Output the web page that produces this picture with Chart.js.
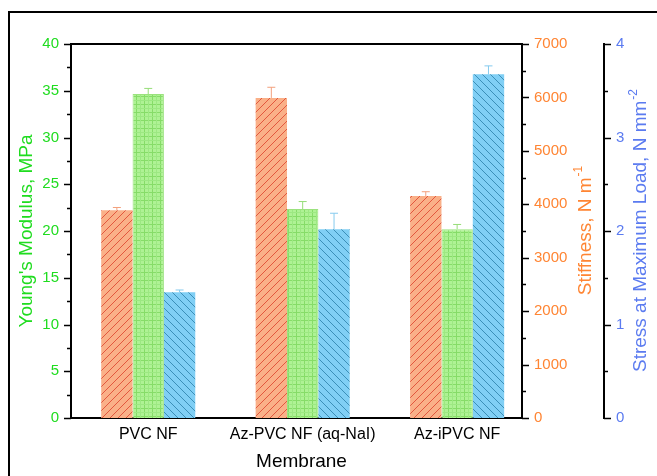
<!DOCTYPE html>
<html>
<head>
<meta charset="utf-8">
<script src="https://cdn.jsdelivr.net/npm/chart.js@4/dist/chart.umd.min.js"></script>
<style>
  html, body { margin: 0; padding: 0; background: #fff; }
  #wrap { width: 657px; height: 476px; }
</style>
</head>
<body>
<div id="wrap"><canvas id="chart" width="657" height="476"></canvas></div>
<script>
// membrane categories
const membranes = ['PVC NF', 'Az-PVC NF (aq-NaI)', 'Az-iPVC NF'];

// stiffness, N m-1 (right axis, orange)
const stiffness = [3890, 5990, 4155];
const stiffnessErr = [50, 200, 80];

// young's modulus, MPa (left axis, green)
const youngs = [34.65, 22.35, 20.2];
const youngsErr = [0.6, 0.8, 0.5];

// stress at max load, N mm-2 (outer right axis, blue)
const stress = [1.344, 2.02, 3.676];
const stressErr = [0.025, 0.17, 0.09];

const GREEN = '#1fdc1f';
const ORANGE = '#ff8533';
const BLUE = '#5b7bf0';

// hatch fills
function makePattern(bg, draw) {
  const c = document.createElement('canvas');
  c.width = 8; c.height = 8;
  const g = c.getContext('2d');
  g.fillStyle = bg;
  g.fillRect(0, 0, 8, 8);
  draw(g);
  return g.createPattern(c, 'repeat');
}

const orangeFill = makePattern('#fab088', g => {
  g.strokeStyle = '#e2583e';
  g.lineWidth = 1;
  g.beginPath();
  g.moveTo(0, 8); g.lineTo(8, 0);
  g.moveTo(-1, 1); g.lineTo(1, -1);
  g.moveTo(7, 9); g.lineTo(9, 7);
  g.stroke();
});

const blueFill = makePattern('#80cff5', g => {
  g.strokeStyle = '#3b8fb8';
  g.lineWidth = 1;
  g.beginPath();
  g.moveTo(0, 0); g.lineTo(8, 8);
  g.moveTo(7, -1); g.lineTo(9, 1);
  g.moveTo(-1, 7); g.lineTo(1, 9);
  g.stroke();
});

const greenFill = makePattern('#aef294', g => {
  g.fillStyle = '#86dc68';
  g.fillRect(0, 0, 8, 1);
  g.fillRect(0, 0, 1, 8);
  g.fillStyle = '#9ce882';
  g.fillRect(0, 4, 8, 1);
  g.fillRect(4, 0, 1, 8);
});

const toPoints = arr => arr.map((v, i) => ({ x: i + 1, y: v }));

// error bars, caps and ticks / titles drawn on top
const errorBars = {
  id: 'errorBars',
  afterDatasetsDraw(chart) {
    const ctx = chart.ctx;
    chart.data.datasets.forEach((ds, di) => {
      const meta = chart.getDatasetMeta(di);
      const scale = chart.scales[ds.yAxisID];
      ctx.save();
      ctx.strokeStyle = ds.errColor;
      ctx.lineWidth = 1;
      meta.data.forEach((bar, i) => {
        const top = scale.getPixelForValue(ds.data[i].y + ds.err[i]);
        ctx.beginPath();
        ctx.moveTo(bar.x, bar.y);
        ctx.lineTo(bar.x, top);
        ctx.moveTo(bar.x - 4, top);
        ctx.lineTo(bar.x + 4, top);
        ctx.stroke();
      });
      ctx.restore();
    });
  }
};

function drawTicks(ctx, scale, step, side) {
  const x = side === 'left' ? scale.right : scale.left;
  const dir = side === 'left' ? -1 : 1;
  ctx.beginPath();
  for (let v = scale.min; v <= scale.max + 1e-9; v += step / 2) {
    const major = Math.abs(v / step - Math.round(v / step)) < 1e-6;
    const y = Math.round(scale.getPixelForValue(v)) + 0.5;
    ctx.moveTo(x, y);
    ctx.lineTo(x + dir * (major ? 7 : 4), y);
  }
  ctx.stroke();
}

function rotatedTitle(ctx, text, sup, cx, cy, color) {
  ctx.save();
  ctx.translate(cx, cy);
  ctx.rotate(-Math.PI / 2);
  ctx.fillStyle = color;
  ctx.textBaseline = 'middle';
  ctx.textAlign = 'left';
  ctx.font = '19px "Liberation Sans", Arial, sans-serif';
  const w = ctx.measureText(text).width;
  ctx.font = '12px "Liberation Sans", Arial, sans-serif';
  const ws = sup ? ctx.measureText(sup).width : 0;
  const start = -(w + ws) / 2;
  ctx.font = '19px "Liberation Sans", Arial, sans-serif';
  ctx.fillText(text, start, 0);
  if (sup) {
    ctx.font = '12px "Liberation Sans", Arial, sans-serif';
    ctx.fillText(sup, start + w + 1, -7);
  }
  ctx.restore();
}

const decor = {
  id: 'decor',
  beforeDraw(chart) {
    const ctx = chart.ctx;
    ctx.save();
    ctx.fillStyle = '#ffffff';
    ctx.fillRect(0, 0, chart.width, chart.height);
    ctx.restore();
  },
  afterDraw(chart) {
    const ctx = chart.ctx;
    const { y, y1, y2 } = chart.scales;
    const area = chart.chartArea;
    ctx.save();
    ctx.strokeStyle = '#000';
    ctx.lineWidth = 1.5;
    drawTicks(ctx, y, 5, 'left');
    drawTicks(ctx, y1, 1000, 'right');
    drawTicks(ctx, y2, 1, 'right');
    // top axis line
    ctx.lineWidth = 2;
    ctx.beginPath();
    ctx.moveTo(area.left, area.top);
    ctx.lineTo(area.right, area.top);
    ctx.stroke();
    // outer frame
    ctx.beginPath();
    ctx.moveTo(9, chart.height);
    ctx.lineTo(9, 12);
    ctx.lineTo(chart.width, 12);
    ctx.stroke();
    ctx.restore();

    rotatedTitle(ctx, "Young's Modulus, MPa", '', y.left + 26.5, (area.top + area.bottom) / 2, GREEN);
    rotatedTitle(ctx, 'Stiffness, N m', '-1', y1.right - 18.5, (area.top + area.bottom) / 2, ORANGE);
    rotatedTitle(ctx, 'Stress at Maximum Load, N mm', '-2', y2.right - 16.5, (area.top + area.bottom) / 2, BLUE);

    ctx.save();
    ctx.fillStyle = '#000';
    ctx.font = '19px "Liberation Sans", Arial, sans-serif';
    ctx.textAlign = 'center';
    ctx.textBaseline = 'middle';
    ctx.fillText('Membrane', (area.left + area.right) / 2 + 5, 462);
    ctx.restore();
  }
};

const tickFont = { family: '"Liberation Sans", Arial, sans-serif', size: 15 };
const axisBorder = { display: true, color: '#000', width: 2 };
const plain = v => String(v);

new Chart(document.getElementById('chart'), {
  type: 'bar',
  data: {
    datasets: [
      {
        label: 'Stiffness',
        data: toPoints(stiffness),
        err: stiffnessErr,
        errColor: '#f3a07c',
        yAxisID: 'y1',
        backgroundColor: orangeFill,
        borderWidth: 0
      },
      {
        label: "Young's Modulus",
        data: toPoints(youngs),
        err: youngsErr,
        errColor: '#96dd78',
        yAxisID: 'y',
        backgroundColor: greenFill,
        borderColor: '#9be27e',
        borderWidth: 1
      },
      {
        label: 'Stress at Maximum Load',
        data: toPoints(stress),
        err: stressErr,
        errColor: '#86cbee',
        yAxisID: 'y2',
        backgroundColor: blueFill,
        borderWidth: 0
      }
    ]
  },
  options: {
    responsive: false,
    animation: false,
    datasets: { bar: { barPercentage: 1, categoryPercentage: 0.609 } },
    layout: { padding: { top: 44, left: 0, right: 0, bottom: 0 } },
    plugins: { legend: { display: false }, tooltip: { enabled: false } },
    scales: {
      x: {
        type: 'linear',
        offset: false,
        min: 0.5,
        max: 3.42,
        grid: { display: false, drawTicks: false },
        border: axisBorder,
        afterBuildTicks: s => { s.ticks = membranes.map((m, i) => ({ value: i + 1 })); },
        afterFit: s => { s.height = 58; },
        ticks: {
          padding: 7,
          maxRotation: 0,
          autoSkip: false,
          color: '#000',
          font: { family: tickFont.family, size: 16 },
          callback: v => membranes[Math.round(v) - 1] || ''
        }
      },
      y: {
        position: 'left',
        min: 0, max: 40,
        grid: { display: false, drawTicks: false },
        border: axisBorder,
        afterFit: s => { s.width = 71; },
        ticks: { stepSize: 5, padding: 12, color: GREEN, font: tickFont, callback: plain }
      },
      y1: {
        position: 'right',
        weight: 0,
        min: 0, max: 7000,
        grid: { display: false, drawTicks: false },
        border: axisBorder,
        afterFit: s => { s.width = 82; },
        ticks: { stepSize: 1000, padding: 12, color: ORANGE, font: tickFont, callback: plain }
      },
      y2: {
        position: 'right',
        weight: 1,
        min: 0, max: 4,
        grid: { display: false, drawTicks: false },
        border: axisBorder,
        afterFit: s => { s.width = 53; },
        ticks: { stepSize: 1, padding: 12, color: BLUE, font: tickFont, callback: plain }
      }
    }
  },
  plugins: [errorBars, decor]
});
</script>
</body>
</html>
